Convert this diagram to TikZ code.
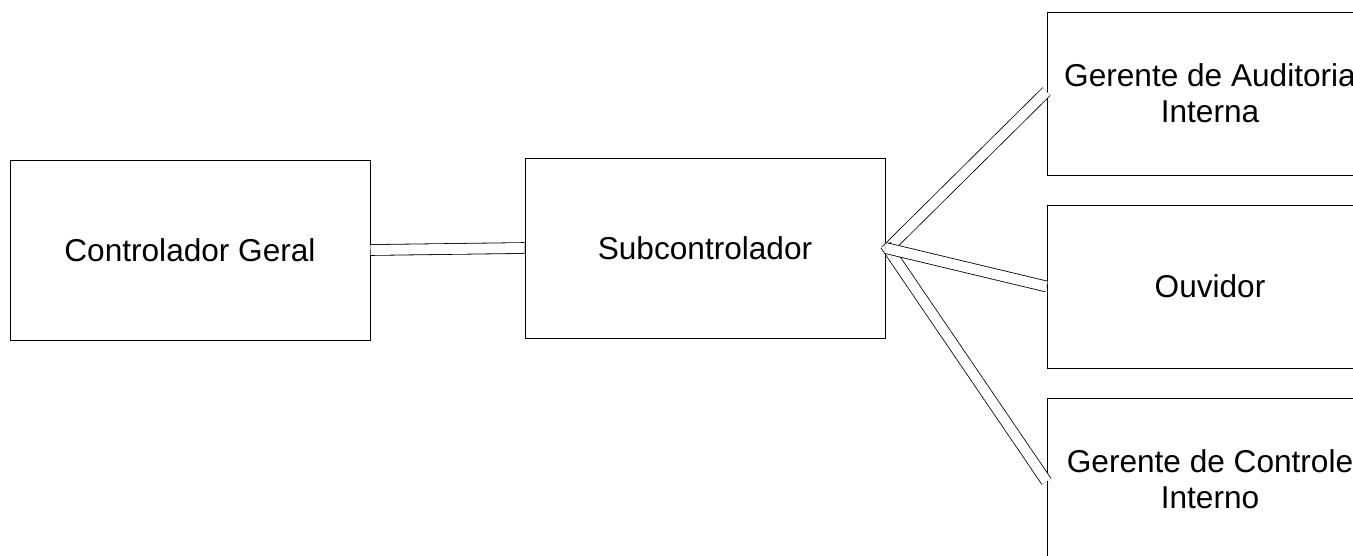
\documentclass[tikz,border=0pt]{standalone}
\usepackage{fontspec}
\setmainfont{Liberation Sans}
\begin{document}
\begin{tikzpicture}[x=1pt,y=-1pt,
  box/.style={draw, line width=1pt, inner sep=0pt, align=center,
    font=\fontsize{31.6}{36}\selectfont},
  wide/.style={box, minimum width=360pt, minimum height=180pt},
  side/.style={box, minimum width=326pt, minimum height=163pt},
  link/.style={draw, line width=0.8pt, double, double distance=10pt}]
\useasboundingbox (0,0) rectangle (1353,555);
\clip (0,0) rectangle (1353,555);
\node[wide] (cg) at (190,250) {Controlador Geral};
\node[wide] (sub) at (705,248) {Subcontrolador};
\node[side] (aud) at (1210,93.5) {Gerente de Auditoria\\Interna};
\node[side] (ouv) at (1210,286.5) {Ouvidor};
\node[side] (gci) at (1210,479.5) {Gerente de Controle\\Interno};
\draw[link] (cg.east) -- (sub.west);
\draw[link] ([yshift=-3pt]sub.east) -- ([yshift=2pt]aud.west);
\draw[link] ([yshift=3pt]sub.east) -- ([yshift=-2pt]gci.west);
\draw[link] (sub.east) -- (ouv.west);
\end{tikzpicture}
\end{document}
